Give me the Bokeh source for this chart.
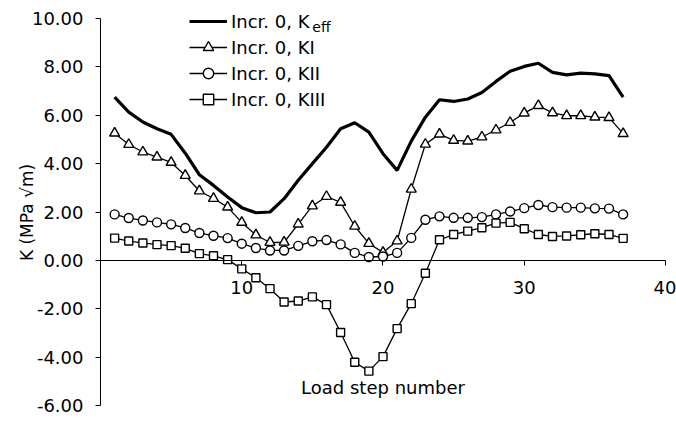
from bokeh.plotting import figure
from bokeh.models import (Legend, LegendItem, FixedTicker, PrintfTickFormatter, Label)
from bokeh.embed import file_html
from bokeh.resources import INLINE

# Stress intensity factors along the crack front, increment 0
steps = [1, 2, 3, 4, 5, 6, 7, 8, 9, 10, 11, 12, 13, 14, 15, 16, 17, 18, 19,
         20, 21, 22, 23, 24, 25, 26, 27, 28, 29, 30, 31, 32, 33, 34, 35, 36, 37]
k_eff = [6.75, 6.13, 5.72, 5.44, 5.21, 4.43, 3.54, 3.10, 2.62, 2.18, 1.97, 2.00,
         2.55, 3.31, 4.00, 4.68, 5.44, 5.69, 5.30, 4.41, 3.72, 4.93, 5.92, 6.64,
         6.57, 6.67, 6.94, 7.40, 7.82, 8.02, 8.15, 7.77, 7.67, 7.74, 7.71, 7.64, 6.75]
k_i = [5.26, 4.79, 4.48, 4.27, 4.05, 3.51, 2.87, 2.56, 2.20, 1.57, 1.05, 0.74,
       0.75, 1.50, 2.25, 2.64, 2.40, 1.41, 0.70, 0.33, 0.80, 2.94, 4.80, 5.22,
       4.96, 4.93, 5.10, 5.39, 5.70, 6.09, 6.40, 6.10, 5.98, 5.98, 5.92, 5.90, 5.24]
k_ii = [1.90, 1.75, 1.65, 1.57, 1.49, 1.34, 1.13, 1.02, 0.92, 0.69, 0.51, 0.41,
        0.41, 0.60, 0.79, 0.84, 0.66, 0.31, 0.14, 0.16, 0.31, 0.93, 1.68, 1.82,
        1.76, 1.76, 1.79, 1.90, 2.02, 2.16, 2.29, 2.20, 2.18, 2.18, 2.15, 2.14, 1.90]
k_iii = [0.92, 0.80, 0.72, 0.65, 0.61, 0.50, 0.28, 0.19, 0.03, -0.35, -0.72, -1.17,
         -1.72, -1.68, -1.51, -1.83, -2.98, -4.21, -4.58, -3.98, -2.82, -1.79, -0.53,
         0.85, 1.07, 1.21, 1.35, 1.54, 1.57, 1.31, 1.07, 0.99, 1.01, 1.06, 1.10, 1.07, 0.91]

x_ticks = [10, 20, 30, 40]
y_ticks = [-6, -4, -2, 0, 2, 4, 6, 8, 10]

FONT = "DejaVu Sans"
FS = "18px"
INK = "#000000"

# The frame runs to the canvas edges so that the legend and the "40" label
# are not clipped; the axes themselves are bounded to 0..40 and -6..10.
p = figure(width=676, height=424,
           x_range=(0, 40.7788), y_range=(-6.7855, 10.7442),
           output_backend="svg", toolbar_location=None,
           min_border_left=100, min_border_right=0,
           min_border_top=0, min_border_bottom=0)
p.outline_line_color = None
p.grid.visible = False
p.background_fill_color = "white"

# x axis sits on the zero line
xa = p.xaxis[0]
xa.fixed_location = 0
xa.bounds = (0, 40)
xa.ticker = FixedTicker(ticks=x_ticks)
xa.major_tick_out = 5
xa.major_tick_in = 0
xa.minor_tick_line_color = None
xa.axis_line_color = INK
xa.major_tick_line_color = INK
xa.major_label_text_font = FONT
xa.major_label_text_font_size = FS
xa.major_label_text_color = INK
xa.major_label_standoff = 16

ya = p.yaxis[0]
ya.bounds = (-6, 10)
ya.ticker = FixedTicker(ticks=y_ticks)
ya.formatter = PrintfTickFormatter(format="%.2f")
ya.major_tick_out = 5
ya.major_tick_in = 0
ya.minor_tick_line_color = None
ya.axis_line_color = INK
ya.major_tick_line_color = INK
ya.major_label_text_font = FONT
ya.major_label_text_font_size = FS
ya.major_label_text_color = INK
ya.major_label_standoff = 12
ya.axis_label = "K (MPa \u221am)"
ya.axis_label_text_font = FONT
ya.axis_label_text_font_size = "17px"
ya.axis_label_text_font_style = "normal"
ya.axis_label_text_color = INK
ya.axis_label_standoff = -8

# series
r_eff = p.line(steps, k_eff, line_color=INK, line_width=3.2)

l_i = p.line(steps, k_i, line_color=INK, line_width=1.3)
m_i = p.scatter(steps, k_i, marker="triangle", size=10, fill_color="white",
                line_color=INK, line_width=1.4)
l_ii = p.line(steps, k_ii, line_color=INK, line_width=1.3)
m_ii = p.scatter(steps, k_ii, marker="circle", size=9, fill_color="white",
                 line_color=INK, line_width=1.4)
l_iii = p.line(steps, k_iii, line_color=INK, line_width=1.3)
m_iii = p.scatter(steps, k_iii, marker="square", size=8, fill_color="white",
                  line_color=INK, line_width=1.4)

legend = Legend(items=[
    LegendItem(label="Incr. 0, K", renderers=[r_eff]),
    LegendItem(label="Incr. 0, KI", renderers=[l_i, m_i]),
    LegendItem(label="Incr. 0, KII", renderers=[l_ii, m_ii]),
    LegendItem(label="Incr. 0, KIII", renderers=[l_iii, m_iii]),
], location=(89, 312))
legend.border_line_color = None
legend.background_fill_alpha = 0
legend.padding = 0
legend.margin = 0
legend.spacing = 0
legend.glyph_width = 38
legend.glyph_height = 26
legend.label_height = 26
legend.label_standoff = 4
legend.label_text_font = FONT
legend.label_text_font_size = FS
legend.label_text_color = INK
p.add_layout(legend)

# subscript of K_eff in the legend
p.add_layout(Label(x=15.0, y=9.64, text="eff", text_font=FONT,
                   text_font_size="14px", text_color=INK,
                   text_baseline="alphabetic"))

# x axis title inside the lower part of the frame
p.add_layout(Label(x=20, y=-5.27, text="Load step number", text_font=FONT,
                   text_font_size=FS, text_color=INK, text_align="center",
                   text_baseline="middle"))

open("out.html", "w").write(file_html(p, INLINE))
